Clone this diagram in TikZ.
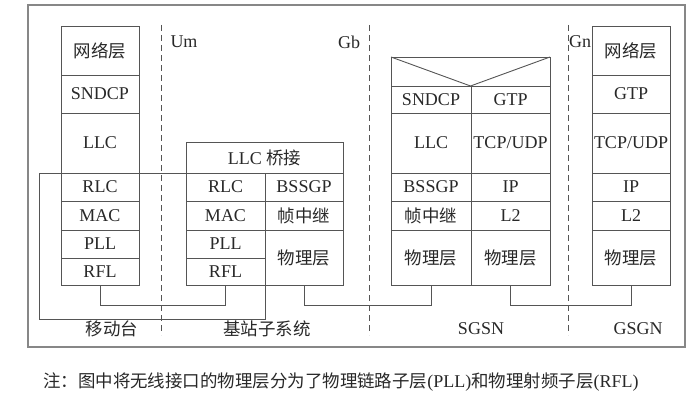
\documentclass[tikz,border=0pt]{standalone}
\usepackage{fontspec}
\setmainfont{Liberation Serif}
\newfontfamily\cjk[Scale=0.97]{Noto Sans CJK SC}
\usepackage{tikz}
\usetikzlibrary{positioning}
\definecolor{linegray}{RGB}{85,85,85}
\definecolor{framegray}{RGB}{135,135,135}
\definecolor{txtgray}{RGB}{40,40,40}

\begin{document}
\begin{tikzpicture}[
  x=1pt, y=-1pt,
  font=\fontsize{18}{21}\selectfont, text=txtgray,
  cell/.style={draw=linegray, line width=0.9pt, inner sep=0pt, outer sep=0pt, align=center, minimum width=78pt},
  link/.style={draw=linegray, line width=0.9pt},
  iface/.style={draw=linegray, line width=0.9pt, dash pattern=on 6pt off 4pt},
  lab/.style={inner sep=0pt},
]
\useasboundingbox (0,0) rectangle (692,412);
\draw[framegray, line width=1.5pt] (28,5) rectangle (685,347);

% mobile station
\node[cell, minimum height=49pt] (msnet) at (100,50.5) {\cjk 网络层};
\node[cell, minimum height=38pt, below=0pt of msnet] (mssndcp) {SNDCP};
\node[cell, minimum height=60pt, below=0pt of mssndcp] (msllc) {LLC};
\node[cell, minimum height=28pt, below=0pt of msllc] (msrlc) {RLC};
\node[cell, minimum height=29pt, below=0pt of msrlc] (msmac) {MAC};
\node[cell, minimum height=28pt, below=0pt of msmac] (mspll) {PLL};
\node[cell, minimum height=27pt, below=0pt of mspll] (msrfl) {RFL};

% base station subsystem
\node[cell, minimum width=157pt, minimum height=31pt] (bssllc) at (264.5,157.5) {LLC {\cjk 桥接}};
\node[cell, minimum width=79pt, minimum height=28pt, anchor=north west] (bssrlc) at (bssllc.south west) {RLC};
\node[cell, minimum width=79pt, minimum height=29pt, below=0pt of bssrlc] (bssmac) {MAC};
\node[cell, minimum width=79pt, minimum height=28pt, below=0pt of bssmac] (bsspll) {PLL};
\node[cell, minimum width=79pt, minimum height=27pt, below=0pt of bsspll] (bssrfl) {RFL};
\node[cell, minimum height=28pt, right=0pt of bssrlc] (bssgp) {BSSGP};
\node[cell, minimum height=29pt, right=0pt of bssmac] (bssfr) {\cjk 帧中继};
\node[cell, minimum height=55pt, anchor=north west] (bssphy) at (bssfr.south west) {\cjk 物理层};

% radio part
\node[cell, minimum width=226pt, minimum height=146pt] (radio) at (152,246) {};

% SGSN
\node[cell, minimum width=159pt, minimum height=29pt] (sgtop) at (470.5,71.5) {};
\draw[link] (sgtop.north west) -- (sgtop.south) -- (sgtop.north east);
\node[cell, minimum width=80pt, minimum height=27pt, anchor=north west] (sgsndcp) at (sgtop.south west) {SNDCP};
\node[cell, minimum width=80pt, minimum height=60pt, below=0pt of sgsndcp] (sgllc) {LLC};
\node[cell, minimum width=80pt, minimum height=28pt, below=0pt of sgllc] (sgbssgp) {BSSGP};
\node[cell, minimum width=80pt, minimum height=29pt, below=0pt of sgbssgp] (sgfr) {\cjk 帧中继};
\node[cell, minimum width=80pt, minimum height=55pt, below=0pt of sgfr] (sgphyl) {\cjk 物理层};
\node[cell, minimum width=79pt, minimum height=27pt, right=0pt of sgsndcp] (sggtp) {GTP};
\node[cell, minimum width=79pt, minimum height=60pt, right=0pt of sgllc] (sgtcp) {TCP/UDP};
\node[cell, minimum width=79pt, minimum height=28pt, right=0pt of sgbssgp] (sgip) {IP};
\node[cell, minimum width=79pt, minimum height=29pt, right=0pt of sgfr] (sgl2) {L2};
\node[cell, minimum width=79pt, minimum height=55pt, right=0pt of sgphyl] (sgphyr) {\cjk 物理层};

% GSGN
\node[cell, minimum height=49pt] (gnnet) at (631,50.5) {\cjk 网络层};
\node[cell, minimum height=38pt, below=0pt of gnnet] (gngtp) {GTP};
\node[cell, minimum height=60pt, below=0pt of gngtp] (gntcp) {TCP/UDP};
\node[cell, minimum height=28pt, below=0pt of gntcp] (gnip) {IP};
\node[cell, minimum height=29pt, below=0pt of gnip] (gnl2) {L2};
\node[cell, minimum height=55pt, below=0pt of gnl2] (gnphy) {\cjk 物理层};

% links between the stacks
\draw[link] (msrfl.south) -- ++(0,20) -| (bssrfl.south);
\draw[link] (bssphy.south) -- ++(0,20) -| (sgphyl.south);
\draw[link] (sgphyr.south) -- ++(0,20) -| (gnphy.south);

% interfaces
\coordinate (umtop) at (161,25);
\coordinate (umbot) at (161,335);
\coordinate (gbtop) at (369,25);
\coordinate (gbbot) at (369,335);
\coordinate (gntop) at (568,25);
\coordinate (gnbot) at (568,335);
\draw[iface] (umtop) -- (umbot);
\draw[iface] (gbtop) -- (gbbot);
\draw[iface] (gntop) -- (gnbot);
\node[lab] (umlab) at (184,42) {Um};
\node[lab] (gblab) at (349,42) {Gb};
\node[lab] (gnlab) at (580,42) {Gn};

% entity names
\node[lab] (mslab) at (112,329) {\cjk 移动台};
\node[lab] (bsslab) at (267,329) {\cjk 基站子系统};
\node[lab] (sgsnlab) at (481,329) {SGSN};
\node[lab] (gsgnlab) at (638,329) {GSGN};

% note
\node[lab, anchor=west, font=\fontsize{18}{21}\selectfont] (note) at (43,382)
  {{\cjk 注：图中将无线接口的物理层分为了物理链路子层}(PLL){\cjk 和物理射频子层}(RFL)};
\end{tikzpicture}
\end{document}
